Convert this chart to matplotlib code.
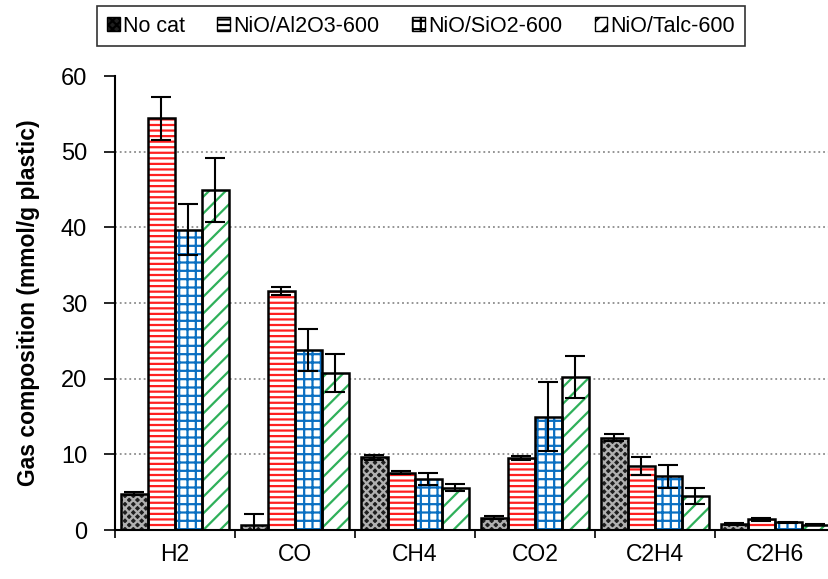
import matplotlib
matplotlib.use('Agg')
import matplotlib.pyplot as plt
from matplotlib.patches import Patch
import numpy as np

plt.rcParams['font.family'] = ['Liberation Sans', 'DejaVu Sans']
plt.rcParams['hatch.linewidth'] = 1.6

gases = ['H2', 'CO', 'CH4', 'CO2', 'C2H4', 'C2H6']
series = ['No cat', 'NiO/Al2O3-600', 'NiO/SiO2-600', 'NiO/Talc-600']

no_cat = [4.8, 0.7, 9.6, 1.6, 12.2, 0.8]
no_cat_err = [0.2, 1.4, 0.3, 0.2, 0.5, 0.1]
al2o3 = [54.4, 31.6, 7.6, 9.5, 8.5, 1.4]
al2o3_err = [2.8, 0.5, 0.2, 0.3, 1.2, 0.2]
sio2 = [39.7, 23.8, 6.7, 15.0, 7.1, 1.0]
sio2_err = [3.4, 2.8, 0.8, 4.6, 1.5, 0.1]
talc = [44.9, 20.8, 5.6, 20.2, 4.5, 0.7]
talc_err = [4.2, 2.5, 0.5, 2.8, 1.0, 0.1]

values = [no_cat, al2o3, sio2, talc]
errors = [no_cat_err, al2o3_err, sio2_err, talc_err]
face = ['#1e1e1e', 'white', 'white', 'white']
hcol = ['#b0b0b0', '#ff2020', '#0a6fc2', '#2fb05a']
hatches = ['xxxx', '---', '++', '//']

fig = plt.figure(figsize=(8.29, 5.79), dpi=100)
ax = fig.add_axes([0.1387, 0.0846, 0.8685, 0.7841])

x = np.arange(len(gases))
w = 0.225
for i in range(4):
    pos = x + (i - 1.5) * w
    ax.bar(pos, values[i], w, color=face[i], edgecolor=hcol[i], hatch=hatches[i],
           linewidth=0, zorder=2)
    ax.bar(pos, values[i], w, fill=False, edgecolor='black', linewidth=1.8, zorder=3)
    ax.errorbar(pos, values[i], yerr=errors[i], fmt='none', ecolor='black',
                elinewidth=1.5, capsize=7, capthick=1.5, zorder=4)

ax.set_xlim(-0.5, 5.5)
ax.set_ylim(0, 60)
ax.set_yticks(range(0, 61, 10))
ax.set_xticks(x)
ax.set_xticklabels(gases)
ax.set_xticks(np.arange(-0.5, 6, 1), minor=True)
ax.tick_params(axis='x', which='major', length=0, labelsize=16.5, pad=9)
ax.tick_params(axis='x', which='minor', length=6, width=1.2, direction='out')
ax.tick_params(axis='y', labelsize=17, length=8, width=1.2, direction='out', pad=12)
for yv in range(10, 60, 10):
    ax.axhline(yv, color='#8c8c8c', linestyle=':', linewidth=1.3, zorder=1)
ax.spines['top'].set_visible(False)
ax.spines['right'].set_visible(False)
ax.spines['left'].set_linewidth(1.5)
ax.spines['bottom'].set_linewidth(1.5)
ax.set_ylabel('Gas composition (mmol/g plastic)', fontsize=16.5, fontweight='bold')
ax.yaxis.set_label_coords(-0.104, 0.5)

handles = [Patch(facecolor=face[i], edgecolor='black', hatch=hatches[i]) for i in range(4)]
leg = fig.legend(handles, series, loc='center', bbox_to_anchor=(0.508, 0.955), ncol=4,
                 fontsize=15.5, frameon=True, fancybox=False, edgecolor='black',
                 handlelength=0.6, handleheight=0.6, handletextpad=0.15, columnspacing=1.5,
                 borderpad=0.45)
leg.get_frame().set_linewidth(1.2)

fig.savefig('out.png', dpi=100)
